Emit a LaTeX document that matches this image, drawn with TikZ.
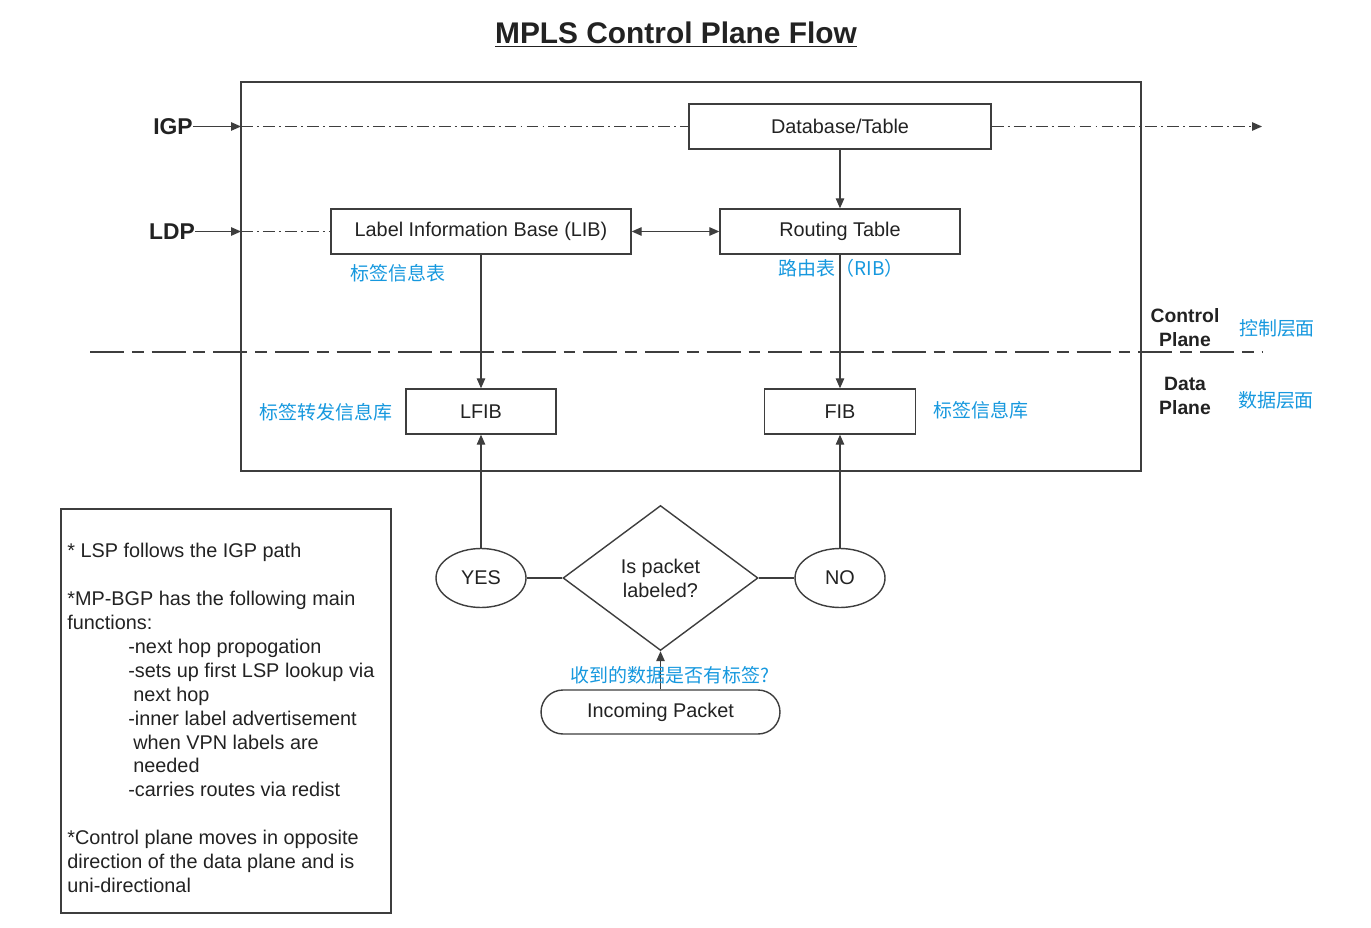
\documentclass[tikz,border=0pt]{standalone}
\usepackage{fontspec}
\setmainfont{Liberation Sans}
\newfontfamily\cjk{Noto Sans CJK SC}
\usetikzlibrary{arrows.meta, positioning, shapes.geometric}
\definecolor{cnblue}{RGB}{22,152,222}
\definecolor{linegray}{RGB}{62,62,62}
\definecolor{txt}{RGB}{34,34,34}

\begin{document}
\begin{tikzpicture}[
  x=0.02cm, y=-0.02cm,
  box/.style={draw=linegray, line width=0.8pt, minimum height=0.9cm, inner sep=0pt, text=txt, font=\fontsize{11.3}{13}\selectfont},
  oval/.style={box, ellipse, minimum width=1.8cm, minimum height=1.18cm},
  side/.style={font=\bfseries\fontsize{13}{15}\selectfont, text=txt, inner sep=0pt},
  plane/.style={font=\bfseries\fontsize{11}{13.6}\selectfont, text=txt, align=center, inner sep=0pt},
  cn/.style={text=cnblue, font=\cjk\fontsize{10.8}{13.6}\selectfont, inner sep=0pt},
  arrow/.style={-{Triangle[length=2mm, width=1.7mm]}, line width=0.7pt, draw=linegray},
  dblarrow/.style={{Triangle[length=2mm, width=1.7mm]}-{Triangle[length=2mm, width=1.7mm]}, line width=0.7pt, draw=linegray},
  link/.style={line width=0.7pt, draw=linegray},
  dashdot/.style={line width=0.7pt, draw=linegray, dash pattern=on 6.8pt off 2.3pt on 1.1pt off 2.3pt},
  frame/.style={line width=0.8pt, draw=linegray},
]
  \useasboundingbox (0,0) rectangle (1371,928);

  % title
  \node[font=\bfseries\fontsize{17}{20}\selectfont, text=txt] (title) at (676,35) {\underline{MPLS Control Plane Flow}};

  % control / data plane frame
  \draw[frame] (241,82) rectangle (1141,471);
  \draw[line width=1.1pt, draw=linegray, dash pattern=on 19.3pt off 4.5pt on 6.8pt off 4.5pt] (90,352) -- (1262,352);

  % inputs
  \node[side] (igp) at (173,126.5) {IGP};
  \node[side] (ldp) at (172,231.5) {LDP};
  \coordinate (igpin) at (241,126.5);
  \coordinate (ldpin) at (241,231.5);
  \coordinate (igpout) at (1262,126.5);

  % tables
  \node[box, minimum width=6.04cm] (db) at (840,126.5) {Database/Table};
  \node[box, minimum width=6cm] (lib) at (481,231.5) {Label Information Base (LIB)};
  \node[box, minimum width=4.8cm] (rt) at (840,231.5) {Routing Table};
  \node[box, minimum width=3cm] (lfib) at (481,411.5) {LFIB};
  \node[box, minimum width=3.02cm] (fib) at (840,411.5) {FIB};

  \node[cn] (libcn) at (398,273) {标签信息表};
  \node[cn] (rtcn) at (841,268) {路由表（RIB）};
  \node[cn] (lfibcn) at (326,412) {标签转发信息库};
  \node[cn] (fibcn) at (981,410) {标签信息库};

  \node[plane] (cplane) at (1185,328) {Control\\Plane};
  \node[plane] (dplane) at (1185,396) {Data\\Plane};
  \node[cn] (cplanecn) at (1277,328) {控制层面};
  \node[cn] (dplanecn) at (1276,400) {数据层面};

  % decision
  \node[box, diamond, aspect=1.34, minimum width=3.9cm, minimum height=2.9cm, align=center, font=\fontsize{11.3}{13.6}\selectfont] (ask) at (660.5,578) {Is packet\\labeled?};
  \node[oval] (yes) at (481,578) {YES};
  \node[oval] (no) at (840,578) {NO};
  \node[box, minimum width=4.78cm, minimum height=0.88cm, rounded corners=0.44cm] (inpkt) at (660.5,712) {Incoming Packet};

  % connectors
  \draw[arrow] (igp) -- (igpin);
  \draw[dashdot] (igpin) -- (db);
  \draw[dashdot, -{Triangle[length=2mm, width=1.7mm]}] (db) -- (igpout);
  \draw[arrow] (ldp) -- (ldpin);
  \draw[dashdot] (ldpin) -- (lib);
  \draw[arrow] (db) -- (rt);
  \draw[dblarrow] (lib) -- (rt);
  \draw[arrow] (lib) -- (lfib);
  \draw[arrow] (rt) -- (fib);
  \draw[arrow] (yes) -- (lfib);
  \draw[arrow] (no) -- (fib);
  \draw[link] (yes) -- (ask);
  \draw[link] (ask) -- (no);
  \draw[arrow] (inpkt) -- (ask);
  \node[cn] (askcn) at (670,675) {收到的数据是否有标签?};

  % notes
  \draw[frame] (61,509) rectangle (391,913);
  \node[anchor=north west, align=left, inner sep=0pt, text=txt, font=\fontsize{11.3}{13.6}\selectfont] (notes) at (67,543) {%
    * LSP follows the IGP path\\[0.48cm]
    *MP-BGP has the following main\\
    functions:\\
    \hspace*{1.22cm}-next hop propogation\\
    \hspace*{1.22cm}-sets up first LSP lookup via\\
    \hspace*{1.32cm}next hop\\
    \hspace*{1.22cm}-inner label advertisement\\
    \hspace*{1.32cm}when VPN labels are\\
    \hspace*{1.32cm}needed\\
    \hspace*{1.22cm}-carries routes via redist\\[0.48cm]
    *Control plane moves in opposite\\
    direction of the data plane and is\\
    uni-directional};
\end{tikzpicture}
\end{document}
